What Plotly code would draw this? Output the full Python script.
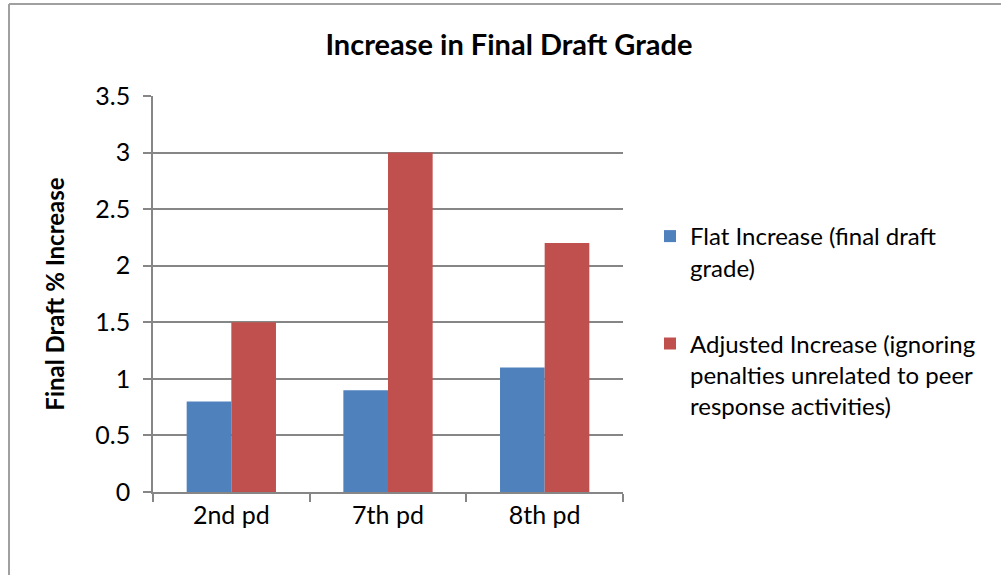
import plotly.graph_objects as go

categories = ["2nd pd", "7th pd", "8th pd"]
flat_increase = [0.8, 0.9, 1.1]
adjusted_increase = [1.5, 3.0, 2.2]

BLUE = "#4F81BD"
RED = "#C0504D"
GRID = "#868686"
FONT = "Lato"

W, H = 1001, 575
L, R, T, B = 153, 623, 96, 492   # plot area in pixels


def px_x(p):
    return (p - L) / (R - L)


def px_y(p):
    return (B - p) / (B - T)


fig = go.Figure()
fig.add_trace(go.Bar(
    x=categories, y=flat_increase, name="Flat Increase (final draft<br>grade)",
    marker_color=BLUE, marker_line_width=0, legendgroup="a",
))
fig.add_trace(go.Bar(
    x=categories, y=adjusted_increase,
    name="Adjusted Increase (ignoring<br>penalties unrelated to peer<br>response activities)",
    marker_color=RED, marker_line_width=0, legendgroup="b",
))

fig.update_layout(
    width=W, height=H,
    margin=dict(l=L, r=W - R, t=T, b=H - B),
    paper_bgcolor="white", plot_bgcolor="white",
    font=dict(family=FONT, size=25, color="black"),
    barmode="group", bargap=0.43, bargroupgap=0,
    title=dict(text="<b>Increase in Final Draft Grade</b>", x=px_x(509), xref="paper",
               xanchor="center", y=1 - 45 / H, yanchor="middle",
               font=dict(size=29, family=FONT)),
    legend=dict(x=px_x(650), y=px_y(214), xanchor="left", yanchor="top",
                valign="top", traceorder="grouped", tracegroupgap=42,
                font=dict(size=24), itemwidth=30, borderwidth=0,
                bgcolor="rgba(0,0,0,0)"),
    xaxis=dict(showline=True, linecolor=GRID, linewidth=1.5, ticks="outside",
               tickson="boundaries", ticklen=8, tickcolor=GRID, tickwidth=1.5,
               showgrid=False, tickfont=dict(size=25)),
    yaxis=dict(range=[0, 3.5], dtick=0.5, showline=True, linecolor=GRID, linewidth=1.5,
               ticks="outside", ticklen=8, tickcolor=GRID, tickwidth=1.5,
               gridcolor=GRID, gridwidth=1.5, zeroline=False,
               tickfont=dict(size=25), ticklabelstandoff=8,
               title=dict(text="<b>Final Draft % Increase</b>", font=dict(size=24),
                          standoff=24)),
    shapes=[
        dict(type="line", xref="paper", yref="paper", x0=px_x(9), x1=px_x(9),
             y0=px_y(4), y1=px_y(580), line=dict(color="#A0A0A0", width=2)),
        dict(type="line", xref="paper", yref="paper", x0=px_x(9), x1=px_x(1005),
             y0=px_y(4), y1=px_y(4), line=dict(color="#A0A0A0", width=2)),
    ],
)

# drop the browser's default body margin so the figure sits at (0, 0)
fig.write_html(
    "out.html",
    config={"displayModeBar": False},
    post_script="document.body.style.margin='0';document.body.style.overflow='hidden';",
)
